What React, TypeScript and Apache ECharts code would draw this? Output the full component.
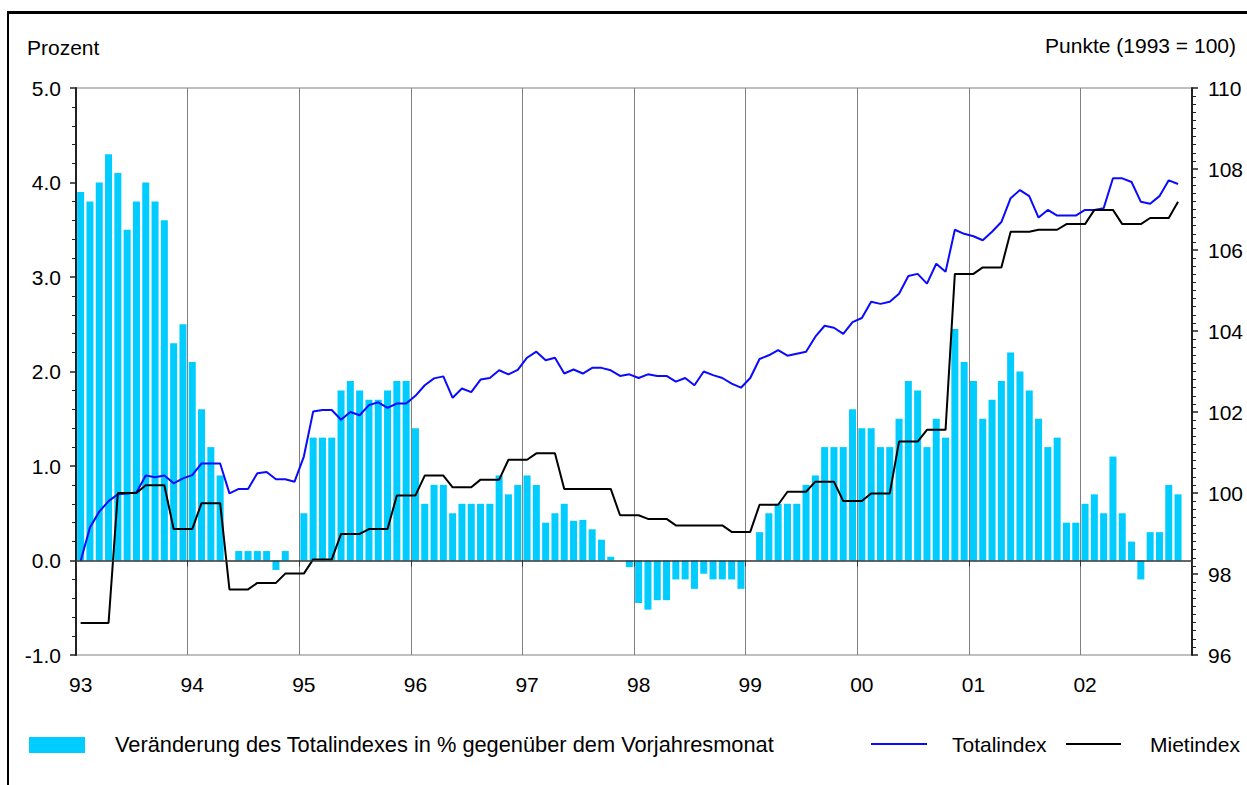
import React, { useEffect, useRef } from 'react';
import * as echarts from 'echarts';

const FONT = '"Liberation Sans", Arial, Helvetica, sans-serif';

const yearLabels = ['93', '94', '95', '96', '97', '98', '99', '00', '01', '02'];
const monthNames = ['Jan', 'Feb', 'Mär', 'Apr', 'Mai', 'Jun', 'Jul', 'Aug', 'Sep', 'Okt', 'Nov', 'Dez'];
const months: string[] = yearLabels.flatMap((y) => monthNames.map((m) => `${m} ${y}`));

// Veränderung des Totalindexes in % gegenüber dem Vorjahresmonat
const veraenderung: (number | null)[] = [
  3.9, 3.8, 4.0, 4.3, 4.1, 3.5, 3.8, 4.0, 3.8, 3.6, 2.3, 2.5, // 93
  2.1, 1.6, 1.2, 0.9, 0.0, 0.1, 0.1, 0.1, 0.1, -0.1, 0.1, 0.0, // 94
  0.5, 1.3, 1.3, 1.3, 1.8, 1.9, 1.8, 1.7, 1.7, 1.8, 1.9, 1.9, // 95
  1.4, 0.6, 0.8, 0.8, 0.5, 0.6, 0.6, 0.6, 0.6, 0.9, 0.7, 0.8, // 96
  0.9, 0.8, 0.4, 0.5, 0.6, 0.42, 0.43, 0.33, 0.22, 0.04, 0.0, -0.07, // 97
  -0.45, -0.52, -0.42, -0.42, -0.2, -0.2, -0.3, -0.14, -0.2, -0.2, -0.2, -0.3, // 98
  0.0, 0.3, 0.5, 0.6, 0.6, 0.6, 0.8, 0.9, 1.2, 1.2, 1.2, 1.6, // 99
  1.4, 1.4, 1.2, 1.2, 1.5, 1.9, 1.8, 1.2, 1.5, 1.3, 2.45, 2.1, // 00
  1.9, 1.5, 1.7, 1.9, 2.2, 2.0, 1.8, 1.5, 1.2, 1.3, 0.4, 0.4, // 01
  0.6, 0.7, 0.5, 1.1, 0.5, 0.2, -0.2, 0.3, 0.3, 0.8, 0.7, null, // 02
];

// Totalindex (Punkte, 1993 = 100)
const totalindex: (number | null)[] = [
  98.32, 99.15, 99.54, 99.80, 99.97, 99.99, 100.01, 100.43, 100.39, 100.43, 100.24, 100.36,
  100.44, 100.73, 100.73, 100.73, 99.99, 100.10, 100.10, 100.49, 100.52, 100.34, 100.34, 100.28,
  100.90, 102.01, 102.05, 102.05, 101.81, 102.00, 101.92, 102.17, 102.24, 102.10, 102.21, 102.21,
  102.40, 102.66, 102.83, 102.88, 102.35, 102.58, 102.49, 102.80, 102.84, 103.03, 102.93, 103.04,
  103.34, 103.49, 103.28, 103.34, 102.95, 103.05, 102.95, 103.09, 103.09, 103.03, 102.89, 102.93,
  102.84, 102.93, 102.89, 102.89, 102.75, 102.84, 102.66, 103.00, 102.91, 102.84, 102.70, 102.60,
  102.84, 103.31, 103.40, 103.53, 103.39, 103.44, 103.49, 103.86, 104.13, 104.08, 103.93, 104.22,
  104.32, 104.72, 104.67, 104.72, 104.92, 105.36, 105.41, 105.17, 105.66, 105.46, 106.50, 106.40,
  106.34, 106.24, 106.45, 106.69, 107.28, 107.48, 107.33, 106.80, 106.99, 106.85, 106.85, 106.85,
  106.99, 106.99, 107.03, 107.77, 107.77, 107.68, 107.19, 107.14, 107.33, 107.72, 107.63, null,
];

// Mietindex (Punkte, 1993 = 100)
const mietindex: (number | null)[] = [
  96.79, 96.79, 96.79, 96.79, 100.0, 100.0, 100.0, 100.19, 100.19, 100.19, 99.11, 99.11,
  99.11, 99.75, 99.75, 99.75, 97.62, 97.62, 97.62, 97.78, 97.78, 97.78, 98.01, 98.01,
  98.01, 98.36, 98.36, 98.36, 98.99, 98.99, 98.99, 99.11, 99.11, 99.11, 99.94, 99.94,
  99.94, 100.43, 100.43, 100.43, 100.14, 100.14, 100.14, 100.33, 100.33, 100.33, 100.82, 100.82,
  100.82, 100.98, 100.98, 100.98, 100.10, 100.10, 100.10, 100.10, 100.10, 100.10, 99.45, 99.45,
  99.45, 99.36, 99.36, 99.36, 99.20, 99.20, 99.20, 99.20, 99.20, 99.20, 99.04, 99.04,
  99.04, 99.71, 99.71, 99.71, 100.03, 100.03, 100.03, 100.28, 100.28, 100.28, 99.80, 99.80,
  99.80, 99.99, 99.99, 99.99, 101.27, 101.27, 101.27, 101.56, 101.56, 101.56, 105.41, 105.41,
  105.41, 105.57, 105.57, 105.57, 106.45, 106.45, 106.45, 106.50, 106.50, 106.50, 106.64, 106.64,
  106.64, 106.99, 106.99, 106.99, 106.64, 106.64, 106.64, 106.79, 106.79, 106.79, 107.19, null,
];

const leftTicks = { min: -1, max: 5, interval: 1 };
const rightTicks = { min: 96, max: 110, interval: 2 };

const BAR_COLOR = '#00CCFF';
const TOTAL_COLOR = '#0a0aff';
const MIET_COLOR = '#000000';

export default function App() {
  const ref = useRef<HTMLDivElement>(null);

  useEffect(() => {
    if (!ref.current) return;
    const chart = echarts.init(ref.current, null, { renderer: 'svg' });
    const isYear = (i: number) => i % 12 === 0;
    chart.setOption({
      animation: false,
      textStyle: { fontFamily: FONT, color: '#000' },
      grid: {
        left: 76, right: 55, top: 88, bottom: 130,
        show: true, borderColor: '#808080', borderWidth: 1, backgroundColor: 'transparent',
        containLabel: false,
      },
      xAxis: [
        {
          type: 'category', data: months, boundaryGap: true, position: 'bottom', z: 5,
          axisLine: { show: true, onZero: true, lineStyle: { color: '#333', width: 1.5 } },
          axisTick: { show: true, interval: isYear, length: 6, lineStyle: { color: '#333', width: 1 } },
          axisLabel: { show: false },
          splitLine: { show: false },
        },
        {
          type: 'category', data: months, boundaryGap: true, position: 'bottom',
          axisLine: { show: false, onZero: false },
          axisTick: { show: false },
          axisLabel: {
            show: true, interval: isYear,
            formatter: (_v: string, i: number) => yearLabels[Math.floor(i / 12)],
            fontSize: 21, margin: 19, color: '#000', fontFamily: FONT,
          },
          splitLine: { show: true, interval: isYear, lineStyle: { color: '#808080', width: 1 } },
        },
      ],
      yAxis: [
        {
          type: 'value', position: 'left', ...leftTicks,
          axisLine: { show: true, lineStyle: { color: '#222', width: 2 } },
          axisTick: { show: true, length: 6, lineStyle: { color: '#222', width: 1.5 } },
          minorTick: { show: true, splitNumber: 5, length: 4, lineStyle: { color: '#222', width: 1 } },
          axisLabel: { formatter: (v: number) => v.toFixed(1), fontSize: 21, margin: 15, color: '#000', fontFamily: FONT },
          splitLine: { show: false },
        },
        {
          type: 'value', position: 'right', ...rightTicks,
          axisLine: { show: true, lineStyle: { color: '#222', width: 2 } },
          axisTick: { show: true, length: 6, lineStyle: { color: '#222', width: 1.5 } },
          minorTick: { show: true, splitNumber: 10, length: 4, lineStyle: { color: '#222', width: 1 } },
          axisLabel: { formatter: (v: number) => String(v), fontSize: 21, margin: 16, color: '#000', fontFamily: FONT },
          splitLine: { show: false },
        },
      ],
      series: [
        {
          name: 'Veränderung des Totalindexes in % gegenüber dem Vorjahresmonat',
          type: 'bar', xAxisIndex: 0, yAxisIndex: 0, data: veraenderung,
          barWidth: 7, itemStyle: { color: BAR_COLOR }, z: 2,
        },
        {
          name: 'Totalindex', type: 'line', xAxisIndex: 0, yAxisIndex: 1, data: totalindex,
          showSymbol: false, symbol: 'none', lineStyle: { color: TOTAL_COLOR, width: 2 }, z: 3,
        },
        {
          name: 'Mietindex', type: 'line', xAxisIndex: 0, yAxisIndex: 1, data: mietindex,
          showSymbol: false, symbol: 'none', lineStyle: { color: MIET_COLOR, width: 2 }, z: 4,
        },
      ],
      graphic: [
        { type: 'text', left: 27, top: 37, style: { text: 'Prozent', font: `21px ${FONT}`, fill: '#000' } },
        { type: 'text', right: 11, top: 35, style: { text: 'Punkte (1993 = 100)', font: `21px ${FONT}`, fill: '#000' } },
        { type: 'rect', shape: { x: 29, y: 737, width: 56, height: 16 }, style: { fill: BAR_COLOR } },
        { type: 'text', x: 115, y: 744, style: { text: 'Veränderung des Totalindexes in % gegenüber dem Vorjahresmonat', font: `21.8px ${FONT}`, fill: '#000', verticalAlign: 'middle' } },
        { type: 'line', shape: { x1: 871, y1: 744, x2: 927, y2: 744 }, style: { stroke: TOTAL_COLOR, lineWidth: 2 } },
        { type: 'text', x: 952, y: 744, style: { text: 'Totalindex', font: `21px ${FONT}`, fill: '#000', verticalAlign: 'middle' } },
        { type: 'line', shape: { x1: 1066, y1: 744, x2: 1121, y2: 744 }, style: { stroke: MIET_COLOR, lineWidth: 2 } },
        { type: 'text', x: 1150, y: 744, style: { text: 'Mietindex', font: `21px ${FONT}`, fill: '#000', verticalAlign: 'middle' } },
      ],
    });
    return () => chart.dispose();
  }, []);

  return (
    <div style={{ position: 'fixed', left: 0, top: 0, width: 1247, height: 785, overflow: 'hidden', background: '#fff' }}>
      <div style={{ position: 'absolute', left: 7, top: 11, width: 1400, height: 900, borderLeft: '2px solid #000', borderTop: '3px solid #000' }} />
      <div ref={ref} style={{ position: 'absolute', left: 0, top: 0, width: 1247, height: 785 }} />
    </div>
  );
}
